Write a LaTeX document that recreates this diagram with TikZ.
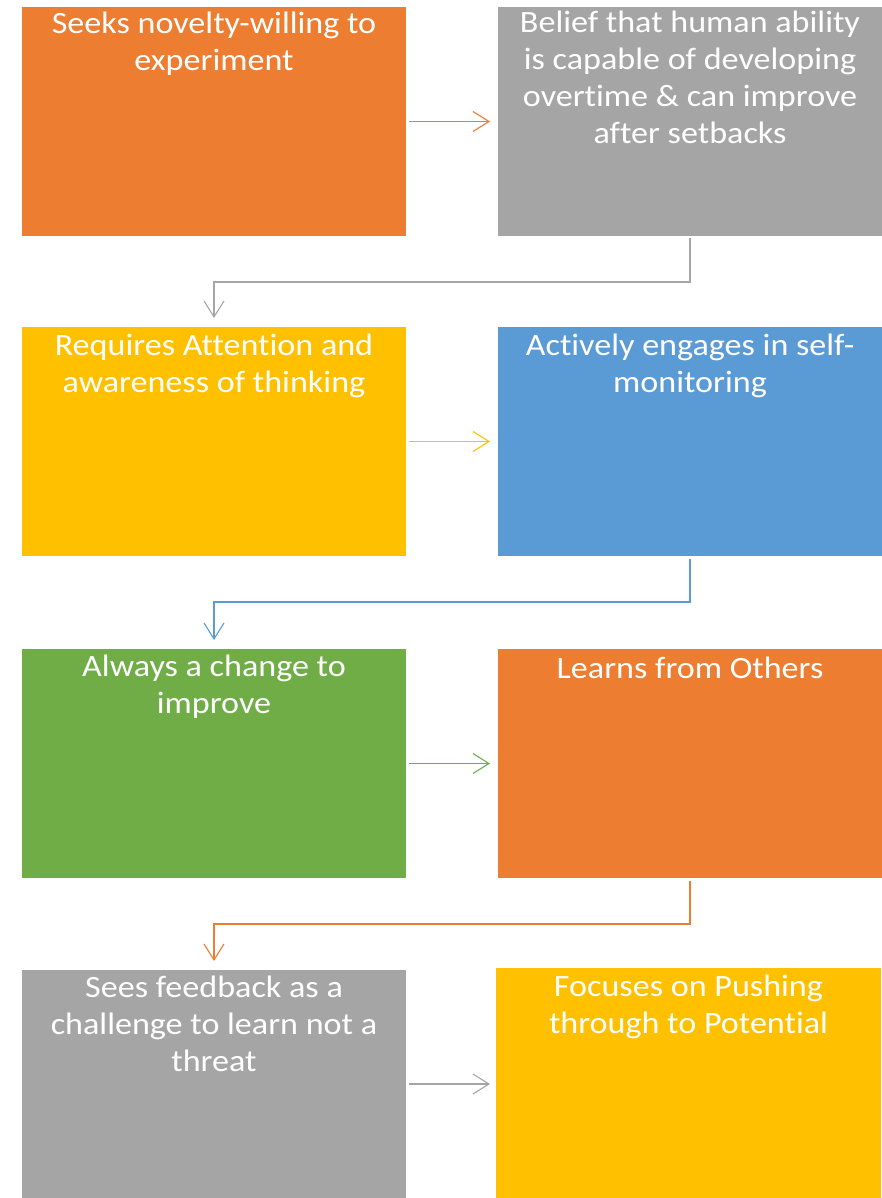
\documentclass[tikz,border=0pt]{standalone}
\usepackage{fontspec}
\setmainfont{Carlito}[FakeStretch=1.1, Ligatures=NoCommon]
\usetikzlibrary{arrows.meta}
\definecolor{cOrange}{HTML}{ED7D31}
\definecolor{cGray}{HTML}{A5A5A5}
\definecolor{cYellow}{HTML}{FFC000}
\definecolor{cBlue}{HTML}{5B9BD5}
\definecolor{cGreen}{HTML}{70AD47}
\tikzset{
  box/.style={draw=none, inner sep=0, outer sep=0, anchor=north west,
    minimum width=384pt, minimum height=229pt},
  boxtext/.style={anchor=north, inner sep=0, text=white, align=center,
    font=\fontsize{31}{37}\selectfont},
  link/.style={line width=1.1pt, -{Straight Barb[length=16pt, width=20pt, line width=1.1pt]}},
}
\begin{document}
\begin{tikzpicture}[x=1pt, y=-1pt]
  \useasboundingbox (0,0) rectangle (881,1198);

  % boxes
  \node[box, fill=cOrange] (b1) at (22,7) {};
  \node[box, fill=cGray]   (b2) at (498,7) {};
  \node[box, fill=cYellow] (b3) at (22,327) {};
  \node[box, fill=cBlue]   (b4) at (498,327) {};
  \node[box, fill=cGreen]  (b5) at (22,649) {};
  \node[box, fill=cOrange] (b6) at (498,649) {};
  \node[box, fill=cGray]   (b7) at (22,970) {};
  \node[box, fill=cYellow, minimum width=385pt, minimum height=230pt] (b8) at (496,968) {};

  % labels
  \node[boxtext] (t1) at ([yshift=0pt]b1.north) {\strut Seeks novelty-willing to\\experiment};
  \node[boxtext] (t2) at ([yshift=1pt]b2.north) {\strut Belief that human ability\\is capable of developing\\overtime \& can improve\\after setbacks};
  \node[boxtext] (t3) at ([yshift=-2pt]b3.north) {\strut Requires Attention and\\awareness of thinking};
  \node[boxtext] (t4) at ([yshift=-2pt]b4.north) {\strut Actively engages in self-\\monitoring};
  \node[boxtext] (t5) at ([yshift=-1pt]b5.north) {\strut Always a change to\\improve};
  \node[boxtext] (t6) at ([yshift=-3pt]b6.north) {\strut Learns from Others};
  \node[boxtext] (t7) at ([yshift=-1pt]b7.north) {\strut Sees feedback as a\\challenge to learn not a\\threat};
  \node[boxtext] (t8) at ([yshift=-2pt]b8.north) {\strut Focuses on Pushing\\through to Potential};

  % horizontal links
  \draw[link, cOrange] ([xshift=3pt]b1.east) -- ([xshift=-8pt]b2.west);
  \draw[link, cYellow] ([xshift=3pt]b3.east) -- ([xshift=-8pt]b4.west);
  \draw[link, cGreen]  ([xshift=3pt]b5.east) -- ([xshift=-8pt]b6.west);
  \draw[link, cGray]   ([xshift=3pt]b7.east |- 0,1084) -- (490,1084);

  % elbow links between rows
  \draw[link, cGray]   ([yshift=-2pt]b2.south) -- ++(0,44) -| ([yshift=9pt]b3.north);
  \draw[link, cBlue]   ([yshift=-3pt]b4.south) -- ++(0,43) -| ([yshift=9pt]b5.north);
  \draw[link, cOrange] ([yshift=-3pt]b6.south) -- ++(0,43) -| ([yshift=9pt]b7.north);
\end{tikzpicture}
\end{document}
